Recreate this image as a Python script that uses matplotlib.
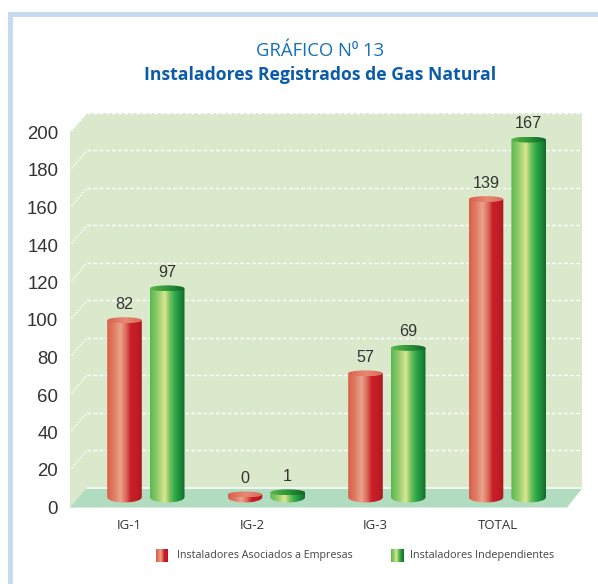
import numpy as np
import matplotlib
matplotlib.use('Agg')
import matplotlib.pyplot as plt
from matplotlib.colors import LinearSegmentedColormap
from matplotlib.patches import Ellipse, PathPatch, Polygon, Rectangle
from matplotlib.path import Path

categories = ['IG-1', 'IG-2', 'IG-3', 'TOTAL']
asociados = [82, 0, 57, 139]
independientes = [97, 1, 69, 167]
y_ticks = [0, 20, 40, 60, 80, 100, 120, 140, 160, 180, 200]
title_1 = 'GRÁFICO N⁰ 13'
title_2 = 'Instaladores Registrados de Gas Natural'
legend_1 = 'Instaladores Asociados a Empresas'
legend_2 = 'Instaladores Independientes'

W, H = 598, 584
TEXT = '#333333'


def px_axes(fig, left, right, top, bottom, **kw):
    # axes placed by its pixel box (y counted from the top of the picture)
    return fig.add_axes([left / W, 1 - bottom / H, (right - left) / W, (bottom - top) / H], **kw)


red_cmap = LinearSegmentedColormap.from_list('red', [
    (0, '#D9604A'), (0.2, '#E07C64'), (0.38, '#EAA48C'), (0.55, '#DC6A58'),
    (0.68, '#C8202A'), (0.85, '#C41C26'), (1, '#A81A1E')])
green_cmap = LinearSegmentedColormap.from_list('green', [
    (0, '#58B850'), (0.2, '#8CCB68'), (0.42, '#DCE592'), (0.58, '#6FC05A'),
    (0.72, '#2EA94A'), (0.87, '#1E8A3A'), (1, '#126A2A')])
red_top = LinearSegmentedColormap.from_list('red_top', ['#D8604E', '#E88874', '#D96A58'])
green_top = LinearSegmentedColormap.from_list('green_top', ['#5CB648', '#2E9638', '#0E6428'])
gradient = np.linspace(0, 1, 128).reshape(1, -1)

fig = plt.figure(figsize=(W / 100, H / 100), dpi=100, facecolor='white')

# page frame, back wall and floor
bg = px_axes(fig, 0, W, 0, H)
bg.set_axis_off()
bg.add_patch(Rectangle((8, 12), W, 4.5, color='#C6DBF1', lw=0))
bg.add_patch(Rectangle((8, 12), 4.5, H, color='#C6DBF1', lw=0))
bg.add_patch(Polygon([(70, 132), (87, 113), (582, 113), (582, 488), (70, 507.5)], color='#DAE9CB', lw=0))
bg.add_patch(Polygon([(70, 507.5), (87, 487.5), (583, 487.5), (567, 507.5)], color='#B2DCC0', lw=0))
bg.plot([87, 582], [487.5, 487.5], color='white', lw=1.1)
for t in y_ticks[1:]:
    y = 487.5 - t * 374.5 / 200
    bg.plot([87, 581], [y, y], color='white', lw=1, dashes=(2.6, 1.8))
    bg.plot([71.5, 87], [y + 18, y], color='white', lw=1, dashes=(1.2, 1.2))
bg.imshow(gradient, cmap=red_cmap, extent=(156, 168, 562, 549), aspect='auto')
bg.imshow(gradient, cmap=green_cmap, extent=(391, 404, 562, 549), aspect='auto')
bg.set_xlim(0, W)
bg.set_ylim(H, 0)

# axis with the tick labels (front edge of the floor)
ax = px_axes(fig, 70, 567, 132.5, 507.5)
ax.patch.set_alpha(0)
for s in ax.spines.values():
    s.set_visible(False)
ax.set_ylim(0, 200)
ax.set_yticks(y_ticks)
ax.tick_params(axis='y', length=0, pad=8.5, labelsize=13.4, labelcolor=TEXT)
for lab in ax.get_yticklabels():
    lab.set_family('Liberation Sans')
ax.set_xlim((70 - 129) / 123, (567 - 129) / 123)
ax.set_xticks(range(len(categories)))
ax.set_xticklabels(categories, family='Open Sans', fontsize=9.5, color=TEXT)
ax.tick_params(axis='x', length=0, pad=8.5)

# bars have their own scale: the printed values do not follow the 0-200 axis
bars = px_axes(fig, 0, W, 0, H)
bars.patch.set_alpha(0)
bars.set_axis_off()
x_scale = 120.5
y_scale = 2.125
xlim = (-145.85 / x_scale, (W - 145.85) / x_scale)
ylim = ((494.5 - H) / y_scale, 494.5 / y_scale)
half = 17.3 / x_scale
offset = 21.35 / x_scale
ry = 3.0 / y_scale
base = -1.2


def cylinder(x, value, cmap, top_cmap):
    path = Path([(x - half, value), (x - half, base), (x - half, base - 1.8 * ry * 4 / 3),
                 (x + half, base - 1.8 * ry * 4 / 3), (x + half, base), (x + half, value),
                 (x - half, value)],
                [Path.MOVETO, Path.LINETO, Path.CURVE4, Path.CURVE4, Path.CURVE4, Path.LINETO, Path.CLOSEPOLY])
    im = bars.imshow(gradient, cmap=cmap, extent=(x - half, x + half, base - 3 * ry, value),
                     aspect='auto', zorder=2)
    im.set_clip_path(PathPatch(path, transform=bars.transData))
    top = bars.imshow(gradient, cmap=top_cmap, extent=(x - half, x + half, value - ry, value + ry),
                      aspect='auto', zorder=3)
    top.set_clip_path(Ellipse((x, value), 2 * half, 2 * ry, transform=bars.transData))
    bars.annotate(str(value), (x, value), xytext=(0, 11.5), textcoords='offset points',
                  ha='center', va='center', family='Liberation Sans', fontsize=11.6, color=TEXT, zorder=4)


for i in range(len(categories)):
    cylinder(i - offset, asociados[i], red_cmap, red_top)
    cylinder(i + offset, independientes[i], green_cmap, green_top)
bars.set_xlim(xlim)
bars.set_ylim(ylim)

fig.text(320 / W, 1 - 51.5 / H, title_1, ha='center', va='center', color='#1470B8', fontsize=13.3,
         family=['Open Sans', 'DejaVu Sans'])
fig.text(320.5 / W, 1 - 75 / H, title_2, ha='center', va='center', color='#0B5CA8', fontsize=12.7,
         family='Open Sans', fontweight='bold')
fig.text(177 / W, 1 - 555.5 / H, legend_1, ha='left', va='center', color='#444444', fontsize=7.75, family='Open Sans')
fig.text(410 / W, 1 - 555.5 / H, legend_2, ha='left', va='center', color='#444444', fontsize=7.8, family='Open Sans')

fig.savefig('out.png', dpi=100)
